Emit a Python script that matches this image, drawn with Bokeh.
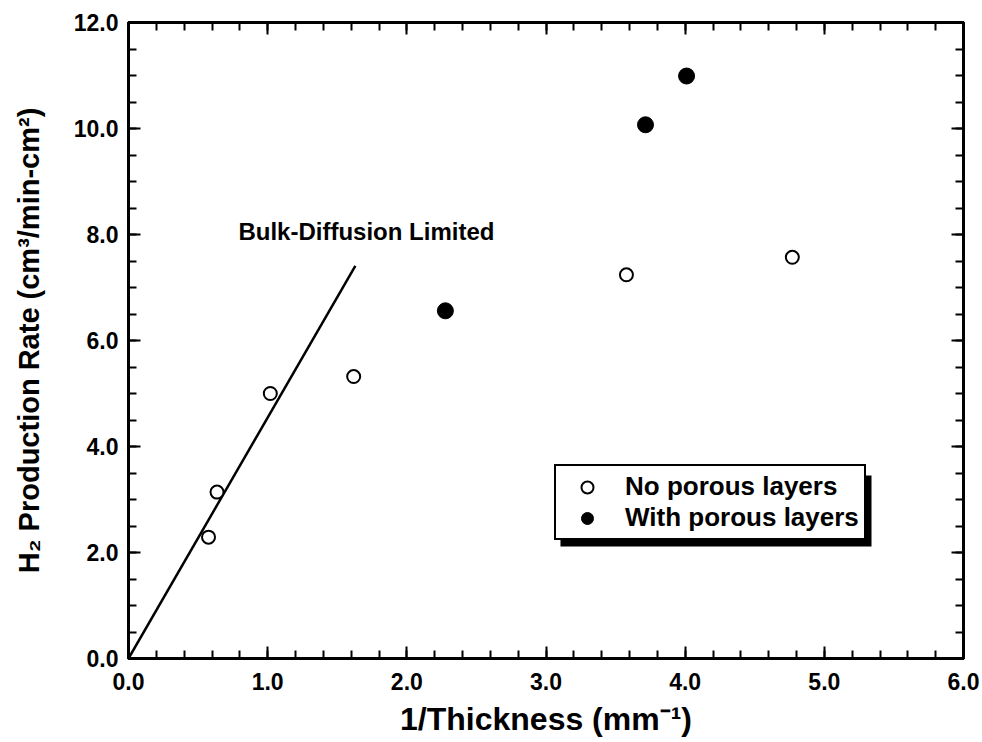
from bokeh.plotting import figure
from bokeh.models import (Range1d, LinearAxis, FixedTicker, PrintfTickFormatter,
                          CustomJSTickFormatter, Legend, LegendItem, Label, BoxAnnotation)
from bokeh.embed import file_html
from bokeh.resources import INLINE

# ---- data ----
open_x = [0.575, 0.636, 1.019, 1.618, 3.578, 4.77]
open_y = [2.29, 3.14, 5.00, 5.32, 7.24, 7.57]
filled_x = [2.277, 3.715, 4.01]
filled_y = [6.56, 10.07, 10.99]
bulk_x = [0.0, 1.63]
bulk_y = [0.0, 7.41]
x_ticks = [0, 1, 2, 3, 4, 5, 6]
y_ticks = [0, 2, 4, 6, 8, 10, 12]
x_minor = [i * 0.2 for i in range(31)]
y_minor = [i * 0.5 for i in range(25)]

FONT = "Liberation Sans"

p = figure(width=982, height=742, x_range=Range1d(0, 6), y_range=Range1d(0, 12),
           output_backend="svg", toolbar_location=None,
           min_border_left=128, min_border_right=19, min_border_top=22, min_border_bottom=84)
p.xgrid.visible = False
p.ygrid.visible = False
p.outline_line_color = "black"
p.outline_line_width = 3
p.background_fill_color = "white"
p.border_fill_color = "white"

def style_axis(ax, ticks, minor, show_labels):
    ax.ticker = FixedTicker(ticks=ticks, minor_ticks=minor)
    ax.axis_line_width = 3
    ax.axis_line_color = "black"
    ax.major_tick_in = 12
    ax.major_tick_out = 0
    ax.minor_tick_in = 8
    ax.minor_tick_out = 0
    ax.major_tick_line_width = 2
    ax.minor_tick_line_width = 2
    ax.major_label_text_font = FONT
    ax.major_label_text_font_style = "bold"
    ax.major_label_text_color = "black"
    if show_labels:
        ax.formatter = PrintfTickFormatter(format="%.1f")
        ax.major_label_text_font_size = "23px"
    else:
        ax.formatter = CustomJSTickFormatter(code="return ''")
        ax.major_label_standoff = 0

xb = p.xaxis[0]
yl = p.yaxis[0]
style_axis(xb, x_ticks, x_minor, True)
style_axis(yl, y_ticks, y_minor, True)
xb.major_label_standoff = 14
yl.major_label_standoff = 10

xt = LinearAxis()
yr = LinearAxis()
style_axis(xt, x_ticks, x_minor, False)
style_axis(yr, y_ticks, y_minor, False)
p.add_layout(xt, "above")
p.add_layout(yr, "right")

xb.axis_label = "1/Thickness (mm\u207b\u00b9)"
yl.axis_label = "H\u2082 Production Rate (cm\u00b3/min-cm\u00b2)"
for ax, fs in ((xb, "32px"), (yl, "29px")):
    ax.axis_label_text_font = FONT
    ax.axis_label_text_font_style = "bold"
    ax.axis_label_text_font_size = fs
    ax.axis_label_text_color = "black"
xb.axis_label_standoff = 8
yl.axis_label_standoff = 26

p.line(bulk_x, bulk_y, line_color="black", line_width=2.5)

r_open = p.scatter(open_x, open_y, marker="circle", size=13, fill_color="white",
                   line_color="black", line_width=2)
r_fill = p.scatter(filled_x, filled_y, marker="circle", size=16, fill_color="black",
                   line_color="black", line_width=1)

p.add_layout(Label(x=0.79, y=8.06, text="Bulk-Diffusion Limited", text_baseline="middle",
                   text_font=FONT, text_font_style="bold", text_font_size="24px",
                   text_color="black"))

# legend drop shadow (offset a few pixels right/down of the legend box)
p.add_layout(BoxAnnotation(left=3.104, right=5.339, top=3.452, bottom=2.111,
                           fill_color="black", fill_alpha=1.0, line_color=None))

legend = Legend(items=[LegendItem(label="No porous layers", renderers=[r_open]),
                       LegendItem(label="With porous layers", renderers=[r_fill])],
                location=(426, 118), margin=0, padding=5, spacing=0,
                glyph_width=52, glyph_height=30, label_height=30, label_standoff=12,
                label_text_font=FONT, label_text_font_style="bold",
                label_text_font_size="26px", label_text_color="black",
                border_line_color="black", border_line_width=2, border_line_alpha=1.0,
                background_fill_color="white", background_fill_alpha=1.0)
p.add_layout(legend, "center")

open("out.html", "w").write(file_html(p, INLINE))
